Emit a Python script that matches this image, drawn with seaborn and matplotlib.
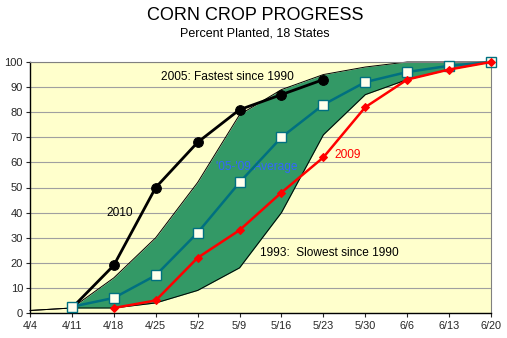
import matplotlib
matplotlib.use("Agg")
import matplotlib.pyplot as plt
import seaborn as sns
import numpy as np
import pandas as pd

weeks = ["4/4", "4/11", "4/18", "4/25", "5/2", "5/9", "5/16", "5/23", "5/30", "6/6", "6/13", "6/20"]
fastest_2005 = [1, 2, 14, 30, 52, 79, 89, 95, 98, 100, 100, 100]
slowest_1993 = [1, 2, 2, 4, 9, 18, 40, 71, 87, 93, 97, 100]
avg_05_09 = [None, 2.5, 6, 15, 32, 52, 70, 83, 92, 96, 98.5, 100]
y2009 = [None, None, 2, 5, 22, 33, 48, 62, 82, 93, 97, 100]
y2010 = [None, 2, 19, 50, 68, 81, 87, 93, None, None, None, None]

sns.set_theme(style="white")
plt.rcParams['font.family'] = ['Liberation Sans', 'DejaVu Sans']

x = np.arange(len(weeks))
df = pd.DataFrame({"x": x, "fast": fastest_2005, "slow": slowest_1993,
                   "avg": avg_05_09, "y2009": y2009, "y2010": y2010})

fig = plt.figure(figsize=(5.07, 3.38), dpi=100)
ax = fig.add_axes([30/507, 1 - 313/338, (491-30)/507, (313-62)/338])
ax.set_facecolor("#FFFFCC")

ax.fill_between(df["x"], df["slow"], df["fast"], color="#339966", zorder=1, linewidth=0)
sns.lineplot(data=df, x="x", y="fast", ax=ax, color="black", linewidth=0.7, zorder=2)
sns.lineplot(data=df, x="x", y="slow", ax=ax, color="black", linewidth=0.7, zorder=2)

d10 = df.dropna(subset=["y2010"])
sns.lineplot(data=d10, x="x", y="y2010", ax=ax, color="black", linewidth=2,
             marker="o", markersize=7, markeredgecolor="black", zorder=3)
dav = df.dropna(subset=["avg"])
sns.lineplot(data=dav, x="x", y="avg", ax=ax, color="#007080", linewidth=1.8,
             marker="s", markersize=7, markerfacecolor="#FFFFEE",
             markeredgecolor="#007080", markeredgewidth=1, zorder=5)
d09 = df.dropna(subset=["y2009"])
sns.lineplot(data=d09, x="x", y="y2009", ax=ax, color="#FF0000", linewidth=1.8,
             marker="D", markersize=4, markeredgecolor="#FF0000", zorder=6)
for ln in ax.lines:
    ln.set_clip_on(False)

ax.set_xlim(0, len(weeks) - 1)
ax.set_ylim(0, 100)
ax.set_xticks(x)
ax.set_xticklabels(weeks, fontsize=7.8)
ax.set_yticks(range(0, 101, 10))
ax.tick_params(axis="y", labelsize=8, length=3, width=0.8, direction="out", left=True, pad=2)
ax.tick_params(axis="x", length=3, width=0.8, direction="out", bottom=True, pad=3)
ax.grid(axis="y", color="#A0A0A0", linewidth=0.8, zorder=0)
ax.set_axisbelow(True)
ax.set_xlabel("")
ax.set_ylabel("")
for s in ["left", "bottom"]:
    ax.spines[s].set_color("black")
    ax.spines[s].set_linewidth(1)
for s in ["top", "right"]:
    ax.spines[s].set_color("#808080")
    ax.spines[s].set_linewidth(0.8)

ax.text(4.70, 94, "2005: Fastest since 1990", fontsize=8.6, ha="center", va="center", color="black")
ax.text(2.15, 40, "2010", fontsize=8.6, ha="center", va="center", color="black")
ax.text(5.42, 58, "'05-'09 Average", fontsize=8.6, ha="center", va="center", color="#3366FF")
ax.text(7.59, 63, "2009", fontsize=8.6, ha="center", va="center", color="#FF0000")
ax.text(7.14, 24, "1993:  Slowest since 1990", fontsize=8.6, ha="center", va="center", color="black")

fig.text(255/507, 1 - 16/338, "CORN CROP PROGRESS", fontsize=13, ha="center", va="center", color="black")
fig.text(255/507, 1 - 33/338, "Percent Planted, 18 States", fontsize=9, ha="center", va="center", color="black")

fig.savefig("out.png", dpi=100, facecolor="white")
